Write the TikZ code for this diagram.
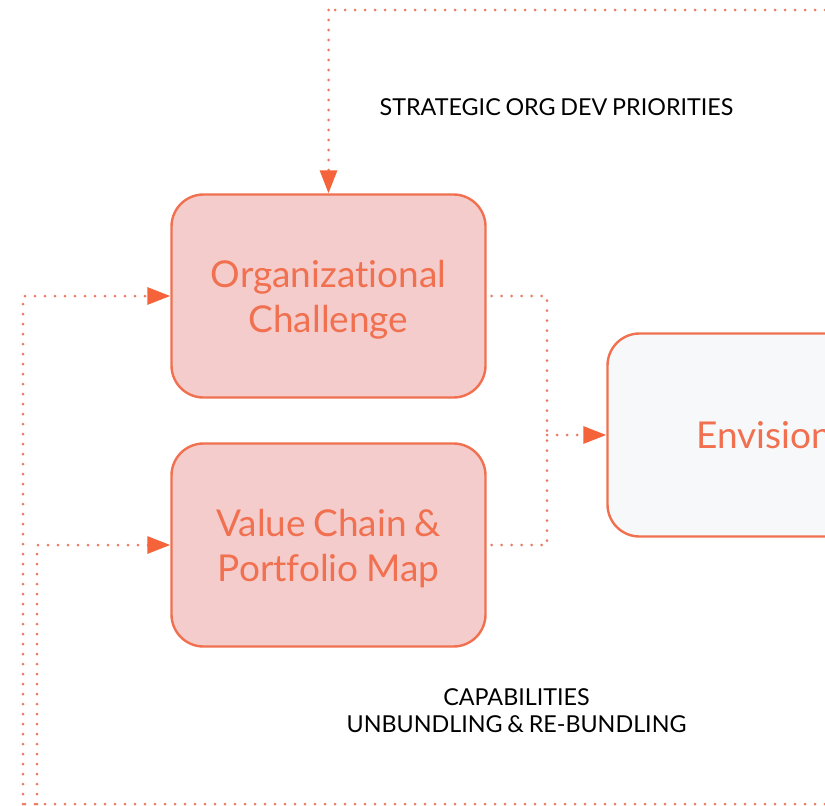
\documentclass[tikz,border=0pt]{standalone}
\usepackage{fontspec}
\setmainfont[Ligatures=NoCommon,WordSpace=0.8]{Lato}
\usetikzlibrary{arrows.meta}
\definecolor{coral}{HTML}{F0704F}
\definecolor{coralarrow}{HTML}{F4633A}
\definecolor{dotc}{HTML}{EC7A62}
\definecolor{pinkfill}{HTML}{F4CCCC}
\definecolor{palefill}{HTML}{F6F8F9}
\newcommand{\lowerpad}{\rule{0pt}{35pt}}
\tikzset{
  x=1pt,y=-1pt,
  box/.style={draw=coral,line width=2.4pt,rounded corners=32pt,minimum width=314pt,minimum height=203pt,
    inner sep=0pt,text=coral,align=center,font=\fontsize{37}{45}\selectfont},
  redbox/.style={box,fill=pinkfill},
  palebox/.style={box,fill=palefill},
  link/.style={draw=dotc,line width=3pt,line cap=round,dash pattern=on 0pt off 10pt},
  linkarrow/.style={link,-{Triangle[length=23pt,width=17pt,fill=coralarrow,color=coralarrow]}},
  caption/.style={text=black,align=center,font=\fontsize{23.3}{27}\selectfont,inner sep=0pt}
}
\begin{document}
\begin{tikzpicture}
\useasboundingbox (0,0) rectangle (825,806);
\clip (0,0) rectangle (825,806);
\node[redbox] (org) at (328.5,296) {\lowerpad Organizational\\Challenge};
\node[redbox] (val) at (328.5,545) {\lowerpad Value Chain \&\\Portfolio Map};
\node[palebox] (env) at (764.5,435) {Envision};
\node[caption] (top) at (556.5,107) {STRATEGIC ORG DEV PRIORITIES};
\node[caption] (bot) at (516.5,711) {CAPABILITIES\\UNBUNDLING \& RE-BUNDLING};
\coordinate (te) at (825,10);
\coordinate (tc) at (org.north |- te);
\coordinate (be) at (825,804);
\coordinate (lo) at (23,804);
\coordinate (lv) at (37,804);
\coordinate (lou) at (lo |- org.west);
\coordinate (lvu) at (lv |- val.west);
\coordinate (ro) at ([xshift=5pt]org.east);
\coordinate (rv) at ([xshift=5pt]val.east);
\coordinate (rx) at (547,296);
\coordinate (ry) at (547,545);
\coordinate (rm) at (rx |- env.west);
\draw[link] (te) -- (tc);
\draw[linkarrow] (tc) -- (org.north);
\draw[link] (be) -- (lo);
\draw[linkarrow] (lo) -- (lou) -- (org.west);
\draw[linkarrow] (lv) -- (lvu) -- (val.west);
\draw[link] (ro) -- (rx) -- (ry);
\draw[link] (rv) -- (ry);
\draw[linkarrow] (rm) -- (env.west);
\end{tikzpicture}
\end{document}
